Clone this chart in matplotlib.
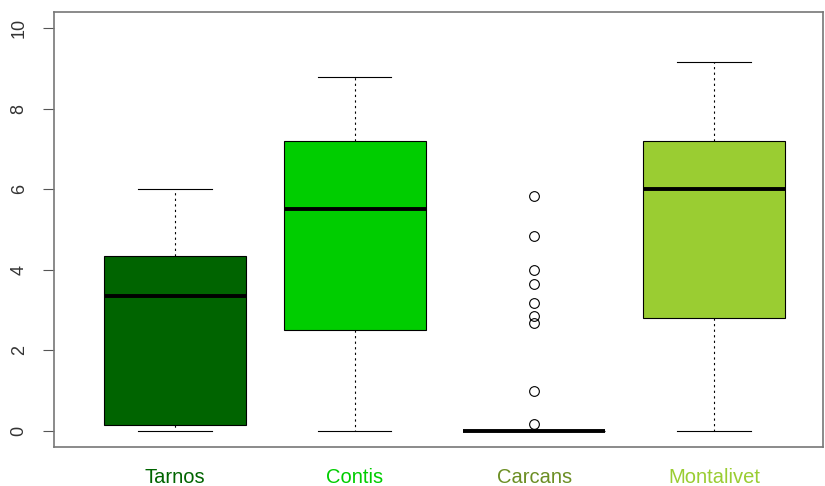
import matplotlib
matplotlib.use("Agg")
import matplotlib.pyplot as plt

plt.rcParams['font.family'] = ['Liberation Sans', 'DejaVu Sans']

sites = ["Tarnos", "Contis", "Carcans", "Montalivet"]
colors = ["#006400", "#00CD00", "#6B8E23", "#9ACD32"]

whislo = [0.0, 0.0, 0.0, 0.0]
q1 = [0.15, 2.5, 0.0, 2.8]
med = [3.35, 5.5, 0.0, 6.0]
q3 = [4.35, 7.2, 0.0, 7.2]
whishi = [6.0, 8.8, 0.0, 9.15]
outliers = [[], [], [0.17, 1.0, 2.67, 2.85, 3.17, 3.66, 4.01, 4.83, 5.84], []]

stats = []
for i in range(len(sites)):
    stats.append(dict(label=sites[i], whislo=whislo[i], q1=q1[i], med=med[i],
                      q3=q3[i], whishi=whishi[i], fliers=outliers[i]))

fig = plt.figure(figsize=(8.25, 4.86), dpi=100)
ax = fig.add_axes([0.0655, 0.080, 0.932, 0.895])

bp = ax.bxp(stats, positions=[1, 2, 3, 4], widths=0.79, patch_artist=True,
            showfliers=True,
            boxprops=dict(edgecolor="black", linewidth=0.8),
            medianprops=dict(color="black", linewidth=2.8, solid_capstyle="butt"),
            whiskerprops=dict(color="black", linestyle=(0, (2, 3)), linewidth=0.8),
            capprops=dict(color="black", linewidth=0.8),
            flierprops=dict(marker="o", markerfacecolor="none", markeredgecolor="black",
                            markersize=7, markeredgewidth=0.8),
            capwidths=0.41)
for patch, c in zip(bp["boxes"], colors):
    patch.set_facecolor(c)

ax.set_xlim(0.327, 4.607)
ax.set_ylim(-0.4, 10.4)
ax.set_yticks([0, 2, 4, 6, 8, 10])
ax.set_yticklabels(["0", "2", "4", "6", "8", "10"], rotation=90, va="center", fontsize=13)
ax.tick_params(axis="y", length=8, width=0.8, color="#555555", labelcolor="#333333", pad=11)
ax.tick_params(axis="x", length=0, pad=15)
ax.set_xticklabels(sites, fontsize=14.5)
for lab, c in zip(ax.get_xticklabels(), colors):
    lab.set_color(c)
for sp in ax.spines.values():
    sp.set_color("#777777")
    sp.set_linewidth(1.2)

fig.savefig("out.png", dpi=100)
